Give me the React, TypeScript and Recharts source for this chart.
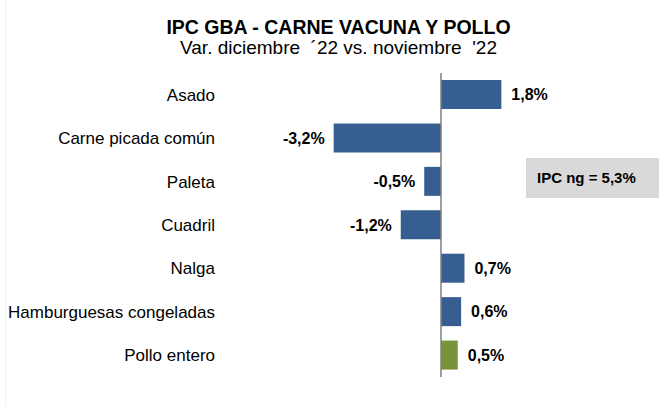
import { BarChart, Bar, XAxis, YAxis, Cell, LabelList, ReferenceLine } from 'recharts'

const categorias = [
  'Asado', 'Carne picada común', 'Paleta', 'Cuadril',
  'Nalga', 'Hamburguesas congeladas', 'Pollo entero',
]
const variaciones = [1.8, -3.2, -0.5, -1.2, 0.7, 0.6, 0.5]
const ipcNg = 5.3

const AZUL = '#375E91'
const VERDE = '#77933C'
const FONT = '"Liberation Sans", Arial, sans-serif'

const data = categorias.map((nombre, i) => ({ nombre, valor: variaciones[i] }))

const fmt = (v: number) => `${v.toFixed(1).replace('.', ',')}%`

function ValorLabel(props: any) {
  const { x, y, width, height, value } = props
  const izq = Math.min(x, x + width)
  const der = Math.max(x, x + width)
  const neg = value < 0
  return (
    <text
      x={neg ? izq - 9 : der + 10}
      y={y + height / 2}
      dy="0.36em"
      textAnchor={neg ? 'end' : 'start'}
      fontSize={16}
      fontWeight={700}
      fill="#000"
      fontFamily={FONT}
    >
      {fmt(value)}
    </text>
  )
}

if (typeof document !== 'undefined') document.body.style.margin = '0'

export default function App() {
  return (
    <div style={{ position: 'relative', width: 667, height: 405, background: '#fff', fontFamily: FONT }}>
      {/* borde tenue del área */}
      <div style={{ position: 'absolute', left: 5, top: 0, width: 1, height: 405, background: '#f2f2f2' }} />

      {/* título */}
      <div style={{ position: 'absolute', left: 0, width: 677, top: 16, textAlign: 'center', fontSize: 19.5, fontWeight: 700, lineHeight: '22px', whiteSpace: 'pre' }}>
        IPC GBA - CARNE VACUNA Y POLLO
      </div>
      <div style={{ position: 'absolute', left: 0, width: 677, top: 37, textAlign: 'center', fontSize: 19, lineHeight: '22px', whiteSpace: 'pre' }}>
        {'Var. diciembre  ´22 vs. noviembre  \'22'}
      </div>

      <BarChart
        width={667}
        height={405}
        data={data}
        layout="vertical"
        margin={{ top: 73, right: 8, bottom: 28, left: 0 }}
        barSize={29}
        style={{ position: 'absolute', left: 0, top: 0 }}
      >
        <XAxis type="number" domain={[-6.5, 6.5]} hide />
        <YAxis
          type="category"
          dataKey="nombre"
          width={223}
          tickLine={false}
          axisLine={false}
          interval={0}
          tick={{ fontSize: 17, fill: '#000', fontFamily: FONT }}
        />
        <Bar dataKey="valor" isAnimationActive={false}>
          {data.map(d => (
            <Cell key={d.nombre} fill={d.nombre === 'Pollo entero' ? VERDE : AZUL} />
          ))}
          <LabelList dataKey="valor" content={ValorLabel} />
        </Bar>
        <ReferenceLine x={0} stroke="#7f7f7f" strokeWidth={1.5} />
      </BarChart>

      {/* recuadro IPC ng */}
      <div style={{
        position: 'absolute', left: 526, top: 158, width: 133, height: 40,
        background: '#d9d9d9', fontSize: 15, fontWeight: 700, lineHeight: '40px',
        paddingLeft: 11, boxSizing: 'border-box', whiteSpace: 'nowrap',
      }}>
        IPC ng = {fmt(ipcNg)}
      </div>
    </div>
  )
}
